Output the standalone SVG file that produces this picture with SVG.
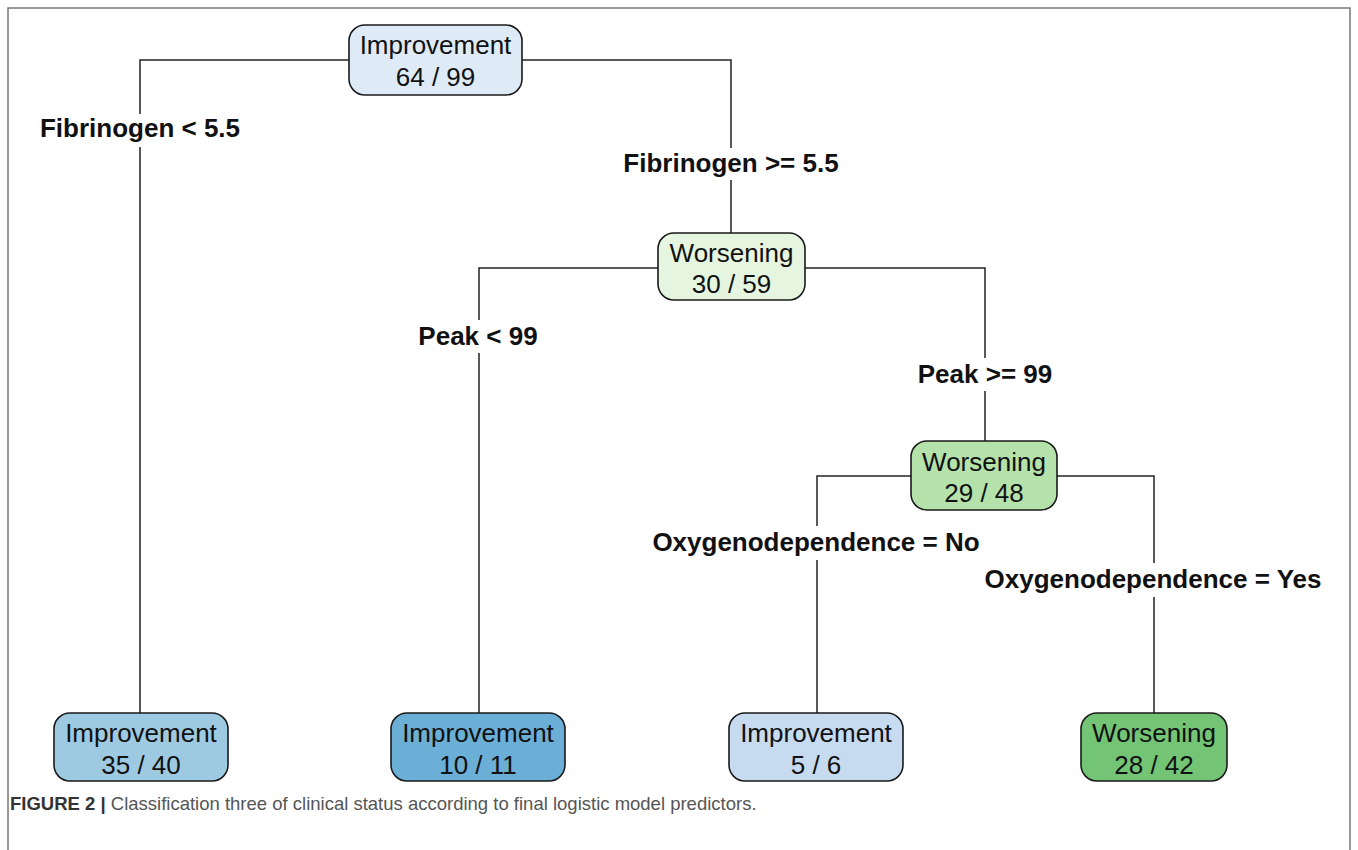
<svg xmlns="http://www.w3.org/2000/svg" width="1358" height="850" viewBox="0 0 1358 850">
<style>
.node rect{stroke:#1a1a1a;stroke-width:1.6}
.node text{font-family:"Liberation Sans",Arial,sans-serif;font-size:26px;fill:#111;text-anchor:middle}
.lbl{font-family:"Liberation Sans",Arial,sans-serif;font-size:26px;font-weight:bold;fill:#111;text-anchor:middle}
.edges path{fill:none;stroke:#222;stroke-width:1.5}
.cap{font-family:"Liberation Sans",Arial,sans-serif;font-size:18.5px}
</style>
<rect width="1358" height="850" fill="#fff"/>
<path d="M8,850 V8 H1350 V850" fill="none" stroke="#777" stroke-width="1.5"/>
<g class="edges" id="connectors">
<path d="M349,60 H140 V114 M140,147 V713"/>
<path d="M522,60 H731 V148 M731,180 V233"/>
<path d="M658,268 H479 V320 M479,353 V713"/>
<path d="M805,268 H985 V358 M985,391 V441"/>
<path d="M911,476 H817 V526 M817,560 V713"/>
<path d="M1057,476 H1154 V563 M1154,597 V713"/>
</g>
<g id="labels">
<text class="lbl" x="140" y="137">Fibrinogen &lt; 5.5</text>
<text class="lbl" x="731" y="172">Fibrinogen &gt;= 5.5</text>
<text class="lbl" x="478" y="345">Peak &lt; 99</text>
<text class="lbl" x="985" y="383">Peak &gt;= 99</text>
<text class="lbl" x="816" y="551">Oxygenodependence = No</text>
<text class="lbl" x="1153" y="588">Oxygenodependence = Yes</text>
</g>
<g class="node" id="n1"><rect x="349" y="25" width="173" height="70" rx="16" fill="#deebf7"/><text x="435.5" y="54">Improvement</text><text x="435.5" y="86">64 / 99</text></g>
<g class="node" id="n2"><rect x="658" y="233" width="147" height="67" rx="16" fill="#e5f5e0"/><text x="731.5" y="262">Worsening</text><text x="731.5" y="293">30 / 59</text></g>
<g class="node" id="n3"><rect x="911" y="441" width="146" height="69" rx="16" fill="#b5e2ab"/><text x="984" y="471">Worsening</text><text x="984" y="502">29 / 48</text></g>
<g class="node" id="n4"><rect x="54" y="713" width="174" height="68" rx="16" fill="#9ecae1"/><text x="141" y="742">Improvement</text><text x="141" y="774">35 / 40</text></g>
<g class="node" id="n5"><rect x="391" y="713" width="174" height="68" rx="16" fill="#6baed6"/><text x="478" y="742">Improvement</text><text x="478" y="774">10 / 11</text></g>
<g class="node" id="n6"><rect x="729" y="713" width="174" height="68" rx="16" fill="#c6dbef"/><text x="816" y="742">Improvement</text><text x="816" y="774">5 / 6</text></g>
<g class="node" id="n7"><rect x="1081" y="713" width="146" height="68" rx="16" fill="#74c476"/><text x="1154" y="742">Worsening</text><text x="1154" y="774">28 / 42</text></g>
<text class="cap" x="10" y="810"><tspan font-weight="bold" fill="#333">FIGURE 2 | </tspan><tspan fill="#555">Classification three of clinical status according to final logistic model predictors.</tspan></text>
</svg>
